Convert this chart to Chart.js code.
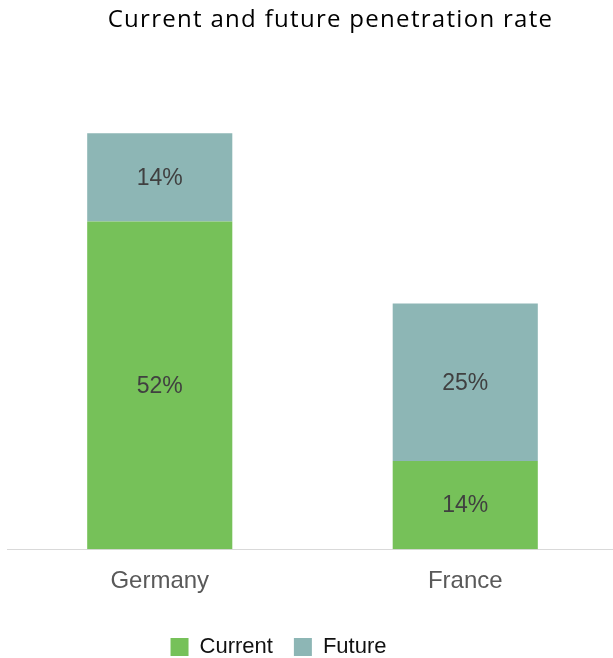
<!DOCTYPE html>
<html>
<head>
  <title>Penetration rate</title>
  <script src="https://cdn.jsdelivr.net/npm/chart.js"></script>
  <style>
    body {
      margin: 0;
      background: #fff;
      overflow: hidden;
    }

    .wrap {
      position: relative;
      width: 613px;
      height: 658px;
      overflow: hidden;
    }

    h1 {
      position: absolute;
      top: 1px;
      left: 0;
      width: 613px;
      margin: 0;
      padding-left: 48px;
      box-sizing: border-box;
      text-align: center;
      font-family: "Open Sans", sans-serif;
      font-weight: normal;
      font-size: 24px;
      letter-spacing: 1.3px;
      color: #000;
    }
  </style>
</head>
<body>
  <div class="wrap">
    <h1>Current and future penetration rate</h1>
    <canvas id="chart" width="618" height="658"></canvas>
  </div>

  <script>
    const countries = ['Germany', 'France'];
    const currentRate = [52, 14];
    const futureRate = [14, 25];

    // writes the percentage in the middle of each bar segment
    const barLabels = {
      id: 'barLabels',
      afterDatasetsDraw(chart) {
        const ctx = chart.ctx;
        ctx.save();
        ctx.font = '23px "Liberation Sans", Arial';
        ctx.fillStyle = '#404040';
        ctx.textAlign = 'center';
        ctx.textBaseline = 'middle';
        chart.data.datasets.forEach((ds, i) => {
          chart.getDatasetMeta(i).data.forEach((bar, j) => {
            const mid = (bar.y + bar.base) / 2;
            ctx.fillText(ds.data[j] + '%', bar.x, mid + 1);
          });
        });
        ctx.restore();
      }
    };

    // legend sits a little left of centre and close to the bottom edge
    const legendShift = {
      id: 'legendShift',
      afterLayout(chart) {
        const lg = chart.legend;
        lg.left -= 34;
        lg.right -= 34;
        lg.top += 9;
        lg.bottom += 9;
      }
    };

    new Chart(document.getElementById('chart'), {
      type: 'bar',
      data: {
        labels: countries,
        datasets: [
          {
            label: 'Current',
            data: currentRate,
            backgroundColor: '#76c159',
            categoryPercentage: 1,
            barPercentage: 0.475
          },
          {
            label: 'Future',
            data: futureRate,
            backgroundColor: '#8db6b5',
            categoryPercentage: 1,
            barPercentage: 0.475
          }
        ]
      },
      options: {
        responsive: false,
        animation: false,
        layout: {
          padding: { top: 108, left: 7, right: 0, bottom: -1 }
        },
        plugins: {
          legend: {
            position: 'bottom',
            labels: {
              boxWidth: 18,
              boxHeight: 18,
              padding: 21,
              color: '#111',
              font: { family: '"Liberation Sans", Arial', size: 22 }
            }
          },
          tooltip: { enabled: false }
        },
        scales: {
          x: {
            stacked: true,
            grid: { display: false },
            border: { color: '#d9d9d9', width: 1 },
            ticks: {
              color: '#595959',
              padding: 10,
              font: { family: '"Liberation Sans", Arial', size: 24 }
            }
          },
          y: {
            stacked: true,
            display: false,
            min: 0,
            max: 70
          }
        }
      },
      plugins: [barLabels, legendShift]
    });
  </script>
</body>
</html>
